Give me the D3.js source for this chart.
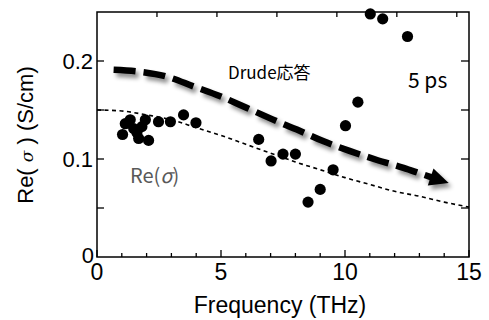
<!DOCTYPE html>
<html>
<head>
<meta charset="utf-8">
<script src="https://cdn.jsdelivr.net/npm/d3@7"></script>
<style>
  body { margin: 0; background: #fff; }
  svg { display: block; }
  .ax text { font-family: "Liberation Sans", Arial, sans-serif; }
</style>
</head>
<body>
<div id="chart"></div>
<script>
// measured points: Re(sigma) vs frequency
var dotFreq  = [1.03, 1.14, 1.34, 1.48, 1.61, 1.68, 1.81, 1.95, 2.08, 2.48, 2.96, 3.49, 3.99,
                6.52, 7.02, 7.50, 8.00, 8.51, 9.00, 9.52, 10.02, 10.52, 11.02, 11.52, 12.52];
var dotSigma = [0.125, 0.136, 0.140, 0.131, 0.127, 0.121, 0.133, 0.140, 0.119, 0.138, 0.138, 0.145, 0.137,
                0.120, 0.098, 0.105, 0.105, 0.056, 0.069, 0.089, 0.134, 0.158, 0.248, 0.243, 0.225];

// thin dotted Drude curve
var drudeFreq  = [0, 1, 2, 3, 4, 5, 6, 7, 8, 9, 10, 11, 12, 13, 14, 15];
var drudeSigma = [0.150, 0.149, 0.145, 0.140, 0.132, 0.124, 0.115, 0.106, 0.097, 0.089, 0.081, 0.074, 0.067, 0.062, 0.056, 0.051];

// thick dashed guide arrow
var guideFreq  = [0.67, 1.75, 2.82, 3.90, 4.97, 6.05, 7.39, 8.06, 9.14, 10.21, 11.29, 12.36, 13.17, 14.18];
var guideSigma = [0.191, 0.189, 0.184, 0.174, 0.164, 0.152, 0.137, 0.130, 0.118, 0.108, 0.099, 0.091, 0.084, 0.0755];

var xMajor = [0, 5, 10, 15];
var yTicks = [0, 0.1, 0.2];
var meVStep = 10; // top axis ticks, 10 meV apart
var THzPermeV = 1 / 4.1357;

var W = 489, H = 320;
var padl = 97, padr = 20, padt = 12, padb = 63;

var svg = d3.select('#chart').append('svg').attr('width', W).attr('height', H);

var x = d3.scaleLinear().domain([0, 15]).range([padl, W - padr]);
var y = d3.scaleLinear().domain([0, 0.25]).range([H - padb, padt]);

var defs = svg.append('defs');
var sh = defs.append('filter').attr('id', 'shadow').attr('x', '-10%').attr('y', '-30%').attr('width', '130%').attr('height', '180%');
sh.append('feDropShadow').attr('dx', 3).attr('dy', 4).attr('stdDeviation', 2.2)
  .attr('flood-color', '#000').attr('flood-opacity', 0.45);

var line = d3.line().x(function(d) { return x(d[0]); }).y(function(d) { return y(d[1]); }).curve(d3.curveMonotoneX);

// dotted drude curve
svg.append('path')
  .datum(d3.zip(drudeFreq, drudeSigma))
  .attr('d', line)
  .attr('fill', 'none').attr('stroke', '#000').attr('stroke-width', 1.6)
  .attr('stroke-dasharray', '4,3.5');

// dots
svg.append('g').selectAll('circle')
  .data(d3.zip(dotFreq, dotSigma))
  .enter().append('circle')
  .attr('cx', function(d) { return x(d[0]); })
  .attr('cy', function(d) { return y(d[1]); })
  .attr('r', 5.6)
  .attr('fill', '#000');

// guide arrow with shadow
var guide = d3.zip(guideFreq, guideSigma);
var g = svg.append('g').attr('filter', 'url(#shadow)');
var n = guide.length;
var tip = [x(guide[n - 1][0]), y(guide[n - 1][1])];
var prev = [x(guide[n - 2][0]), y(guide[n - 2][1])];
var ang = Math.atan2(tip[1] - prev[1], tip[0] - prev[0]);
var headLen = 19, headHalf = 9;
var base = [tip[0] - headLen * Math.cos(ang), tip[1] - headLen * Math.sin(ang)];
var body = guide.slice(0, n - 1).concat([[x.invert(base[0] + 2 * Math.cos(ang)), y.invert(base[1] + 2 * Math.sin(ang))]]);
g.append('path')
  .datum(body)
  .attr('d', line)
  .attr('fill', 'none').attr('stroke', '#000').attr('stroke-width', 6.5)
  .attr('stroke-dasharray', '22,8');
g.append('path')
  .attr('d', 'M' + tip[0] + ',' + tip[1] +
    'L' + (base[0] - headHalf * Math.sin(ang)) + ',' + (base[1] + headHalf * Math.cos(ang)) +
    'L' + (base[0] + headHalf * Math.sin(ang)) + ',' + (base[1] - headHalf * Math.cos(ang)) + 'Z')
  .attr('fill', '#000');

// frame
svg.append('rect')
  .attr('x', x(0)).attr('y', y(0.25))
  .attr('width', x(15) - x(0)).attr('height', y(0) - y(0.25))
  .attr('fill', 'none').attr('stroke', '#000').attr('stroke-width', 1.5);

var ax = svg.append('g').attr('class', 'ax');

// bottom ticks (inward)
var bottom = ax.append('g');
d3.range(0, 16).forEach(function(v) {
  var major = xMajor.indexOf(v) >= 0;
  bottom.append('line')
    .attr('x1', x(v)).attr('x2', x(v))
    .attr('y1', y(0)).attr('y2', y(0) - (major ? 7 : 4))
    .attr('stroke', '#000').attr('stroke-width', 1.3);
});
bottom.selectAll('text').data(xMajor).enter().append('text')
  .attr('x', function(d) { return x(d); })
  .attr('y', y(0) + 23)
  .attr('text-anchor', 'middle')
  .attr('font-size', 23)
  .text(function(d) { return d; });

// top ticks: every 10 meV
var topT = d3.range(meVStep, 15 / THzPermeV, meVStep);
ax.append('g').selectAll('line').data(topT).enter().append('line')
  .attr('x1', function(d) { return x(d * THzPermeV); })
  .attr('x2', function(d) { return x(d * THzPermeV); })
  .attr('y1', y(0.25)).attr('y2', y(0.25) + 5)
  .attr('stroke', '#000').attr('stroke-width', 1.3);

// left / right ticks
[0.05, 0.1, 0.15, 0.2].forEach(function(v) {
  ax.append('line').attr('x1', x(0)).attr('x2', x(0) + 7)
    .attr('y1', y(v)).attr('y2', y(v)).attr('stroke', '#000').attr('stroke-width', 1.3);
  ax.append('line').attr('x1', x(15)).attr('x2', x(15) - 8)
    .attr('y1', y(v)).attr('y2', y(v)).attr('stroke', '#000').attr('stroke-width', 1.3);
});
ax.append('g').selectAll('text').data(yTicks).enter().append('text')
  .attr('x', function(d) { return d === 0 ? x(0) - 3 : x(0) - 4; })
  .attr('y', function(d) { return d === 0 ? y(d) + 6 : y(d) + 8; })
  .attr('text-anchor', 'end')
  .attr('font-size', 22)
  .text(function(d) { return d === 0 ? '0' : d3.format('.1f')(d); });

// axis titles
ax.append('text')
  .attr('x', (x(0) + x(15)) / 2 - 3).attr('y', 313)
  .attr('text-anchor', 'middle').attr('font-size', 23)
  .text('Frequency (THz)');

var yl = ax.append('text')
  .attr('transform', 'translate(33,' + 135 + ') rotate(-90)')
  .attr('text-anchor', 'middle').attr('font-size', 22);
yl.append('tspan').text('Re( ');
yl.append('tspan').attr('font-family', '"DejaVu Serif", serif').attr('font-style', 'italic').attr('font-size', 17).text('σ');
yl.append('tspan').text(' ) (S/cm)');

// annotations
var cjk = '"Noto Sans CJK JP", "Noto Sans", sans-serif';
svg.append('text').attr('x', 228).attr('y', 79)
  .attr('font-family', cjk).attr('font-size', 17).attr('fill', '#000')
  .text('Drude応答');
svg.append('text').attr('x', 408).attr('y', 88)
  .attr('font-family', cjk).attr('font-size', 21).attr('fill', '#000')
  .text('5 ps');
var re = svg.append('text').attr('x', 130).attr('y', 183)
  .attr('font-family', cjk).attr('font-size', 20).attr('fill', '#595959');
re.append('tspan').text('Re(');
re.append('tspan').attr('font-style', 'italic').text('σ');
re.append('tspan').text(')');
</script>
</body>
</html>
